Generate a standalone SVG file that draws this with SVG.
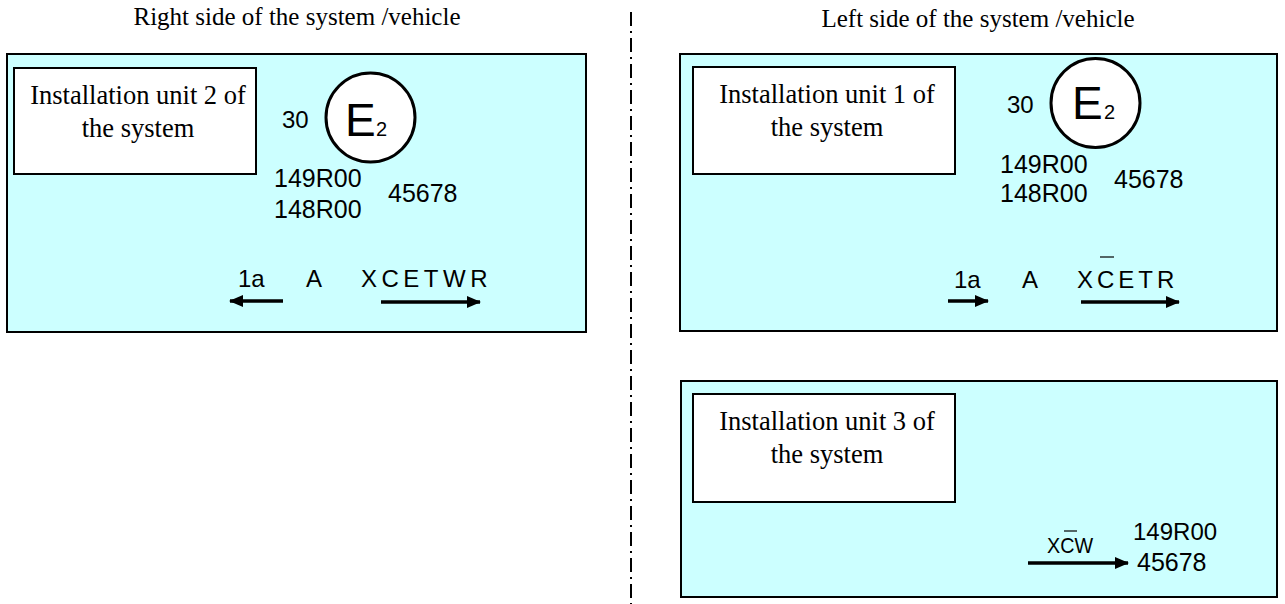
<svg xmlns="http://www.w3.org/2000/svg" width="1285" height="604" viewBox="0 0 1285 604">
<style>
.panel{fill:#ccffff;stroke:#000;stroke-width:2}
.label{fill:#fff;stroke:#000;stroke-width:2}
.serif{font-family:"Liberation Serif","Times New Roman",serif;font-size:25px;fill:#000}
.lbl{font-size:26.5px}
.sans{font-family:"Liberation Sans",Arial,sans-serif;font-size:24px;fill:#000}
.mark{fill:#fff;stroke:#000;stroke-width:3}
.arr{stroke:#000;stroke-width:3.5;fill:none;marker-end:url(#ah)}
.bar{stroke:#000;stroke-width:1.2}
</style>
<defs>
<marker id="ah" markerUnits="userSpaceOnUse" markerWidth="14" markerHeight="12" refX="13" refY="6" orient="auto">
<path d="M0,0 L14,6 L0,12 Z" fill="#000"/>
</marker>
</defs>
<text class="serif" x="297" y="25" text-anchor="middle">Right side of the system /vehicle</text>
<text class="serif" x="978" y="27" text-anchor="middle">Left side of the system /vehicle</text>
<line x1="631" y1="12" x2="631" y2="604" stroke="#000" stroke-width="2" stroke-dasharray="14 5 2 5"/>
<g id="unit2">
<rect class="panel" x="7" y="54" width="579" height="278"/>
<rect class="label" x="14" y="68" width="242" height="106"/>
<text class="serif lbl" x="138" y="104" text-anchor="middle">Installation unit 2 of</text>
<text class="serif lbl" x="138" y="137" text-anchor="middle">the system</text>
<text class="sans" x="282" y="128">30</text>
<circle class="mark" cx="370.5" cy="117.5" r="44.5"/>
<text class="sans" x="345" y="136" style="font-size:46px">E</text>
<text class="sans" x="376" y="136" style="font-size:20px">2</text>
<text class="sans" x="274" y="187" style="font-size:25px">149R00</text>
<text class="sans" x="274" y="218" style="font-size:25px">148R00</text>
<text class="sans" x="388" y="202" style="font-size:25px">45678</text>
<text class="sans" x="238" y="287">1a</text>
<text class="sans" x="306" y="287">A</text>
<text class="sans" x="361" y="287" letter-spacing="4.5">XCETWR</text>
</g>
<g id="unit1">
<rect class="panel" x="680" y="54" width="597" height="277"/>
<rect class="label" x="693" y="67" width="262" height="107"/>
<text class="serif lbl" x="827" y="103" text-anchor="middle">Installation unit 1 of</text>
<text class="serif lbl" x="827" y="136" text-anchor="middle">the system</text>
<text class="sans" x="1007" y="113">30</text>
<circle class="mark" cx="1095.5" cy="103" r="44.5"/>
<text class="sans" x="1072" y="119" style="font-size:46px">E</text>
<text class="sans" x="1104" y="119" style="font-size:20px">2</text>
<text class="sans" x="1000" y="173" style="font-size:25px">149R00</text>
<text class="sans" x="1000" y="202" style="font-size:25px">148R00</text>
<text class="sans" x="1114" y="188" style="font-size:25px">45678</text>
<text class="sans" x="954" y="288">1a</text>
<text class="sans" x="1022" y="288">A</text>
<text class="sans" x="1077" y="288" letter-spacing="4">XCETR</text>
<line class="bar" x1="1100" y1="257" x2="1114" y2="257"/>
</g>
<g id="unit3">
<rect class="panel" x="681" y="381" width="596" height="216"/>
<rect class="label" x="693" y="394" width="262" height="108"/>
<text class="serif lbl" x="827" y="430" text-anchor="middle">Installation unit 3 of</text>
<text class="serif lbl" x="827" y="463" text-anchor="middle">the system</text>
<text class="sans" x="1047" y="553" style="font-size:22px" textLength="46" lengthAdjust="spacingAndGlyphs">XCW</text>
<line class="bar" x1="1064" y1="531" x2="1077" y2="531"/>
<text class="sans" x="1133" y="540">149R00</text>
<text class="sans" x="1137" y="571" style="font-size:25px">45678</text>
</g>
<g id="connectors">
<line class="arr" x1="283" y1="301" x2="230" y2="301"/>
<line class="arr" x1="381" y1="302" x2="480" y2="302"/>
<line class="arr" x1="948" y1="301" x2="988" y2="301"/>
<line class="arr" x1="1081" y1="302" x2="1179" y2="302"/>
<line class="arr" x1="1028" y1="563" x2="1128" y2="563"/>
</g>
</svg>
